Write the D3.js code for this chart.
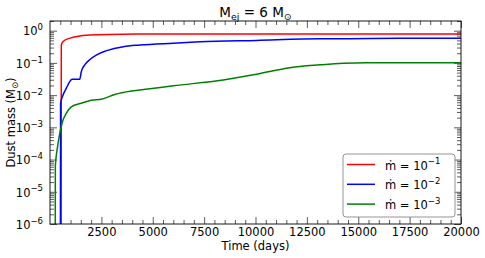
<!DOCTYPE html>
<html>
<head>
<meta charset="utf-8">
<script src="https://cdn.jsdelivr.net/npm/d3@7"></script>
<style>
body { margin: 0; background: #fff; }
svg { font-family: "DejaVu Sans", sans-serif; }
.axis path { display: none; }
.axis line { stroke: #333; stroke-width: 0.8; }
</style>
</head>
<body>
<script>
var width = 485,
    height = 258,
    margin = {top: 21, right: 24, bottom: 34, left: 50};

// time (days) and dust mass (Msun)
var redTime = [540, 550, 650, 975, 1460, 2270, 3550, 5000, 8000, 12000, 20000];
var redMass = [1e-7, 0.36, 0.47, 0.59, 0.69, 0.75, 0.78, 0.785, 0.785, 0.785, 0.785];

var blueTime = [505, 515, 630, 790, 960, 1070, 1445, 1525, 1690, 1930, 2270, 2760, 3570, 4380, 6000, 7300, 10050, 13150, 14600, 17000, 20000];
var blueMass = [1e-7, 0.0055, 0.01, 0.0162, 0.0263, 0.031, 0.031, 0.054, 0.087, 0.126, 0.178, 0.24, 0.32, 0.36, 0.41, 0.45, 0.50, 0.56, 0.565, 0.58, 0.58];

var greenTime = [255, 260, 355, 470, 630, 790, 1035, 1525, 2010, 2500, 3150, 3960, 4770, 6000, 8430, 10060, 11680, 13140, 14270, 15410, 20000];
var greenMass = [1e-7, 6.3e-5, 2.2e-4, 6.3e-4, 1.66e-3, 2.7e-3, 4.3e-3, 5.6e-3, 6.9e-3, 7.4e-3, 0.0105, 0.0135, 0.0155, 0.0195, 0.0295, 0.0447, 0.071, 0.087, 0.098, 0.102, 0.102];

var seriesColors = ["#ff0000", "#0000ff", "#008000"];
var legendExp = ["\u22121", "\u22122", "\u22123"];

var xMajor = [2500, 5000, 7500, 10000, 12500, 15000, 17500, 20000];
var yMajor = [1e-6, 1e-5, 1e-4, 1e-3, 1e-2, 1e-1, 1];
var yExp = ["\u22126", "\u22125", "\u22124", "\u22123", "\u22122", "\u22121", "0"];

var series = [
  {time: redTime, mass: redMass},
  {time: blueTime, mass: blueMass},
  {time: greenTime, mass: greenMass}
];

var iw = width - margin.left - margin.right,
    ih = height - margin.top - margin.bottom;

var x = d3.scaleLinear().domain([0, 20000]).range([margin.left, margin.left + iw]);
var y = d3.scaleLog().domain([1e-6, 2]).range([margin.top + ih, margin.top]);

var xMinor = d3.range(500, 20000, 500).filter(function(d) { return d % 2500 !== 0; });
var yMinor = [];
d3.range(-6, 1).forEach(function(e) {
  d3.range(2, 10).forEach(function(k) {
    var v = k * Math.pow(10, e);
    if (v <= 2) yMinor.push(v);
  });
});

var svg = d3.select("body").append("svg")
    .attr("width", width)
    .attr("height", height);

svg.append("clipPath").attr("id", "clip")
  .append("rect")
    .attr("x", margin.left).attr("y", margin.top)
    .attr("width", iw).attr("height", ih);

// ticks, all pointing inward
function addAxis(axis, tx, ty) {
  return svg.append("g").attr("class", "axis")
      .attr("transform", "translate(" + tx + "," + ty + ")")
      .call(axis);
}

var bottom = addAxis(d3.axisBottom(x).tickValues(xMajor).tickSize(-7).tickPadding(4).tickFormat(d3.format("d")), 0, margin.top + ih);
bottom.selectAll("text").attr("font-size", 11.5).attr("fill", "#000").attr("font-family", "DejaVu Sans");
addAxis(d3.axisBottom(x).tickValues(xMinor).tickSize(-4).tickFormat(""), 0, margin.top + ih);
addAxis(d3.axisTop(x).tickValues(xMajor).tickSize(-7).tickFormat(""), 0, margin.top);
addAxis(d3.axisTop(x).tickValues(xMinor).tickSize(-4).tickFormat(""), 0, margin.top);

var left = addAxis(d3.axisLeft(y).tickValues(yMajor).tickSize(-7).tickFormat(""), margin.left, 0);
addAxis(d3.axisLeft(y).tickValues(yMinor).tickSize(-4).tickFormat(""), margin.left, 0);
addAxis(d3.axisRight(y).tickValues(yMajor).tickSize(-7).tickFormat(""), margin.left + iw, 0);
addAxis(d3.axisRight(y).tickValues(yMinor).tickSize(-4).tickFormat(""), margin.left + iw, 0);

// y tick labels as 10^n
left.selectAll(".tick text").each(function(d) {
  var t = d3.select(this)
      .attr("font-size", 11.5).attr("fill", "#000")
      .attr("font-family", "DejaVu Sans")
      .attr("x", -7).attr("dy", "0.37em")
      .text(null);
  t.append("tspan").text("10");
  t.append("tspan").attr("font-size", 8.5).attr("dy", "-0.6em").text(yExp[yMajor.indexOf(d)]);
});

// lines
var line = d3.line()
    .curve(d3.curveMonotoneX)
    .x(function(d) { return x(d[0]); })
    .y(function(d) { return y(d[1]); });

svg.append("g").attr("clip-path", "url(#clip)")
  .selectAll("path")
  .data(series)
  .enter().append("path")
    .attr("d", function(s) { return line(d3.zip(s.time, s.mass)); })
    .attr("fill", "none")
    .attr("stroke", function(s, i) { return seriesColors[i]; })
    .attr("stroke-width", 1.5)
    .attr("stroke-linejoin", "round");

// frame
svg.append("rect")
    .attr("x", margin.left).attr("y", margin.top)
    .attr("width", iw).attr("height", ih)
    .attr("fill", "none").attr("stroke", "#000").attr("stroke-width", 0.9);

// title
var title = svg.append("text")
    .attr("x", margin.left + iw / 2).attr("y", 17)
    .attr("text-anchor", "middle").attr("font-size", 13.5);
title.append("tspan").text("M");
title.append("tspan").attr("font-size", 9.5).attr("dy", 3).text("ej");
title.append("tspan").attr("dy", -3).text(" = 6 M");
title.append("tspan").attr("font-size", 9.5).attr("dy", 3).text("\u2299");

// axis labels
svg.append("text")
    .attr("x", margin.left + iw / 2).attr("y", 250)
    .attr("text-anchor", "middle").attr("font-size", 11.5)
    .text("Time (days)");

var ylab = svg.append("text")
    .attr("transform", "translate(15," + (margin.top + ih / 2) + ")rotate(-90)")
    .attr("text-anchor", "middle").attr("font-size", 11.5);
ylab.append("tspan").text("Dust mass (M");
ylab.append("tspan").attr("font-size", 8.5).attr("dy", 2.5).text("\u2299");
ylab.append("tspan").attr("dy", -2.5).text(")");

// legend
var lg = svg.append("g").attr("transform", "translate(343,154)");
lg.append("rect")
    .attr("width", 112).attr("height", 63)
    .attr("rx", 3)
    .attr("fill", "#fff").attr("fill-opacity", 0.8)
    .attr("stroke", "#888").attr("stroke-width", 0.9);

var item = lg.selectAll(".item")
    .data(legendExp)
  .enter().append("g")
    .attr("class", "item")
    .attr("transform", function(d, i) { return "translate(0," + (10.5 + i * 19.8) + ")"; });

item.append("line")
    .attr("x1", 4).attr("x2", 32)
    .attr("stroke", function(d, i) { return seriesColors[i]; })
    .attr("stroke-width", 1.5);

var lt = item.append("text")
    .attr("x", 42).attr("y", 5)
    .attr("font-size", 11.5);
lt.append("tspan").text("\u1E41 = 10");
lt.append("tspan").attr("font-size", 8.5).attr("dy", "-0.6em").text(function(d) { return d; });
</script>
</body>
</html>
